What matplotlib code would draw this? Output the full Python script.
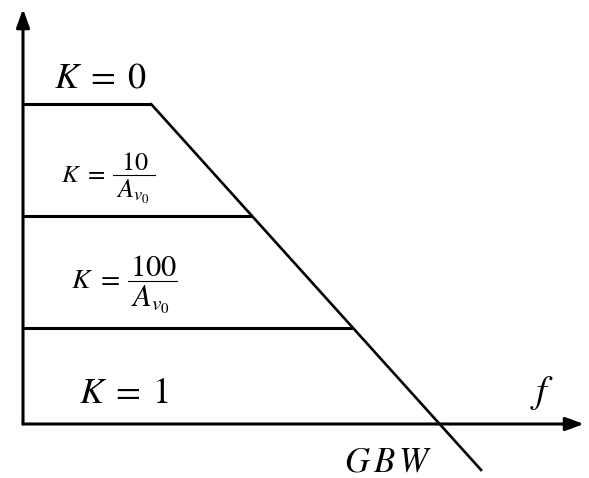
import matplotlib
matplotlib.use("Agg")
import matplotlib.pyplot as plt
import numpy as np

plt.rcParams['mathtext.fontset'] = 'stix'
plt.rcParams['font.family'] = ['DejaVu Serif']

# gain levels (dB) of the closed-loop curves and their corner frequencies (decades)
gains_db = [57.1, 37.1, 17.1]
corners_dec = [1.27, 2.27, 3.27]
rolloff_db_per_dec = -20.0
line_end_db = -8.2

# px scale of the drawing: origin and units
X0, Y0 = 23, 424
PX_DEC, PX_DB = 101.0, 5.6


def to_data(px, py):
    return (px - X0) / PX_DEC, (Y0 - py) / PX_DB


def frac_label(x, y, num, k_size, n_size, bar):
    # "K = num / A_v0" with a real fraction bar
    x_bar0, x_bar1 = bar
    ax.text(*to_data(x, y), r"$K\ =$", fontsize=k_size, ha="left", va="center")
    xm = (x_bar0 + x_bar1) / 2
    ax.text(*to_data(xm + 1, y - 5), "$%s$" % num, fontsize=n_size, ha="center", va="baseline")
    ax.text(*to_data(x_bar0 + 3, y + 3), r"$A_{v_0}$", fontsize=n_size, ha="left", va="top")
    (bx0, by), (bx1, _) = to_data(x_bar0, y), to_data(x_bar1, y)
    ax.plot([bx0, bx1], [by, by], color="black", lw=0.8)


fig = plt.figure(figsize=(5.89, 4.78), dpi=100)
ax = fig.add_axes([0, 0, 1, 1])
xl = to_data(0, 0)[0], to_data(589, 0)[0]
yl = to_data(0, 478)[1], to_data(0, 0)[1]
ax.set_xlim(xl)
ax.set_ylim(yl)
ax.axis("off")

lw = 2.2
arrow = dict(arrowstyle="-|>,head_length=1.1,head_width=0.4",
             lw=lw, color="black", shrinkA=0, shrinkB=0)
# axes with arrows
ax.annotate("", xy=to_data(584, 424), xytext=(0, 0), arrowprops=arrow)
ax.annotate("", xy=to_data(23, 9), xytext=(0, 0), arrowprops=arrow)

# flat sections
for g, c in zip(gains_db, corners_dec):
    ax.plot([0, c], [g, g], color="black", lw=lw, solid_capstyle="butt")

# -20 dB/dec line from the K=0 corner down past GBW
gbw = corners_dec[0] - gains_db[0] / rolloff_db_per_dec
x_end = corners_dec[0] + (line_end_db - gains_db[0]) / rolloff_db_per_dec
ax.plot([corners_dec[0], x_end], [gains_db[0], line_end_db], color="black", lw=1.9)

# labels
ax.text(*to_data(54, 88), r"$K\;=\;0$", fontsize=26, ha="left", va="baseline")
frac_label(61, 175, "10", 18, 19, (113, 155))
frac_label(71, 281, "100", 20, 22, (128, 177))
ax.text(*to_data(79, 403), r"$K\;=\;1$", fontsize=26, ha="left", va="baseline")
ax.text(*to_data(530, 402), r"$f$", fontsize=28, ha="left", va="baseline")
ax.text(*to_data(344, 471), r"$G\,B\,W$", fontsize=25, ha="left", va="baseline")

fig.savefig("out.png", dpi=100)
